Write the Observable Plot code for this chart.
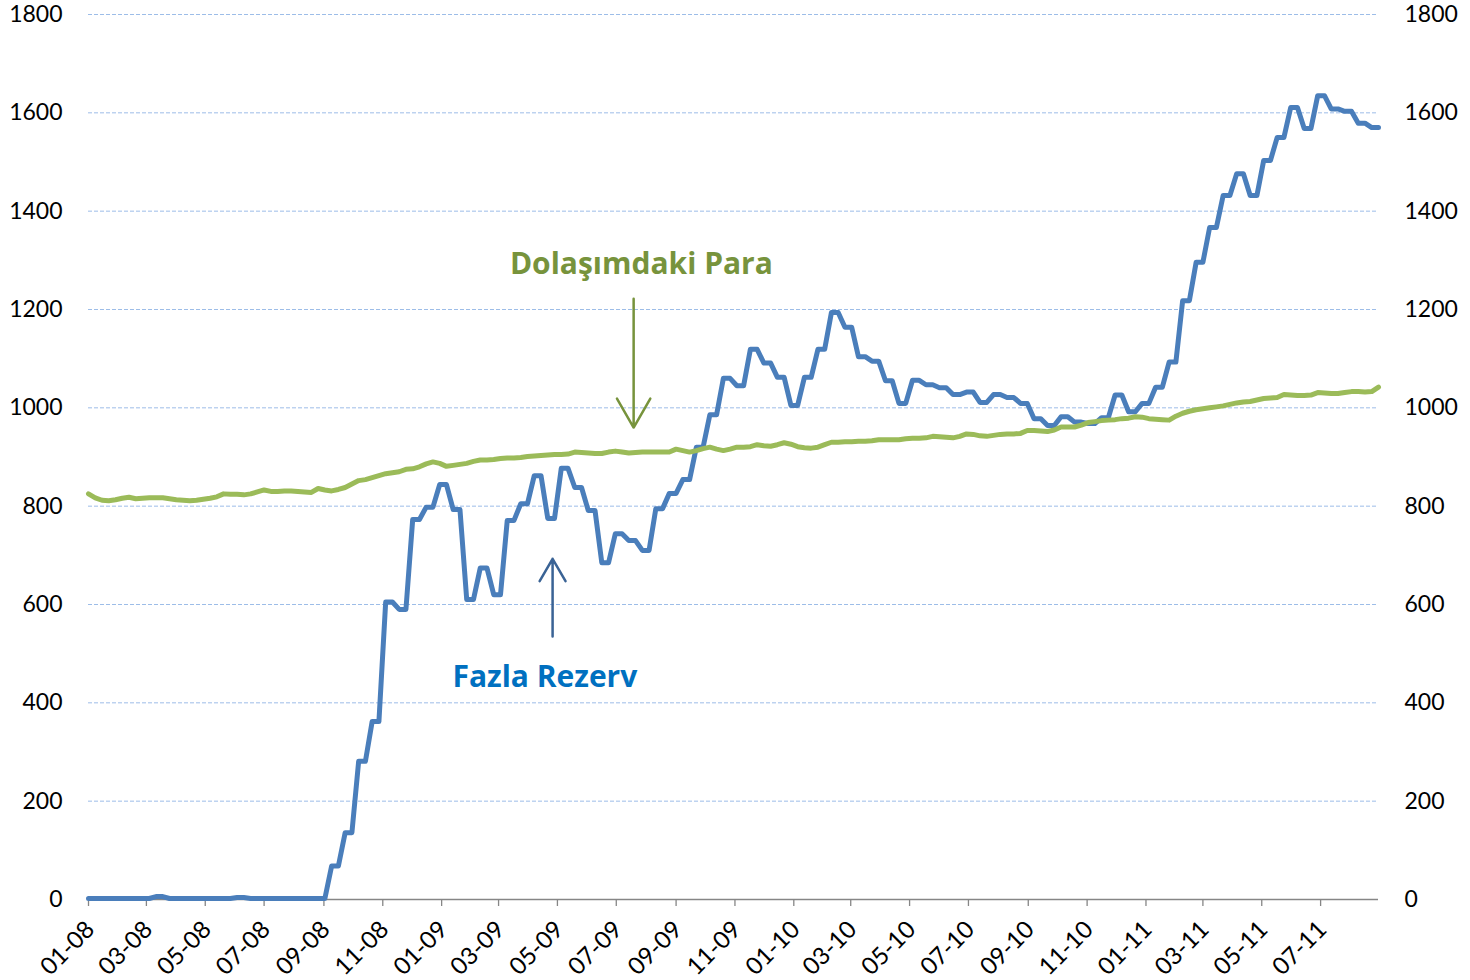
<!DOCTYPE html>
<html>
<head>
<meta charset="utf-8">
<script src="https://cdn.jsdelivr.net/npm/d3@7"></script>
<script src="https://cdn.jsdelivr.net/npm/@observablehq/plot@0.6"></script>
<style>
  html, body { margin: 0; padding: 0; background: #ffffff; }
  #chart { width: 1470px; height: 980px; }
</style>
</head>
<body>
<div id="chart"></div>
<script>
// ---- Data ----
const startDate = "2008-01-02";   // first weekly observation
const weekStep = 7;               // days between observations

const tickLabels = ["01-08","03-08","05-08","07-08","09-08","11-08",
  "01-09","03-09","05-09","07-09","09-09","11-09",
  "01-10","03-10","05-10","07-10","09-10","11-10",
  "01-11","03-11","05-11","07-11"];

const yTicks = [0, 200, 400, 600, 800, 1000, 1200, 1400, 1600, 1800];

// Fazla Rezerv (weekly, two-week maintenance-period values)
const fazlaRezerv = [
  2,2, 2,2, 2,2, 2,2, 2,2, 6,6, 2,2, 2,2, 2,2,
  2,2, 2,2, 4,4, 2,2, 2,2, 2,2, 2,2, 2,2, 2,2,
  68,68,136,136,281,281,362,362,605,605,
  590,590,773,773,798,798,844,844,793,793,
  610,610,674,674,620,620,771,771,805,805,
  862,862,775,775,877,877,838,838,791,791,
  685,685,744,744,730,730,710,710,795,795,
  826,826,854,854,920,920,986,986,1060,1060,
  1045,1045,1119,1119,1091,1091,1062,1062,1005,1005,
  1062,1062,1119,1119,1194,1194,1164,1164,1104,1104,
  1095,1095,1055,1055,1009,1009,1056,1056,1047,1047,
  1041,1041,1027,1027,1032,1032,1011,1011,1027,1027,
  1021,1021,1009,1009,978,978,964,964,982,982,
  971,971,968,968,980,980,1026,1026,992,992,
  1009,1009,1042,1042,1093,1093,1218,1218,1296,1296,
  1367,1367,1432,1432,1476,1476,1432,1432,1503,1503,
  1550,1550,1611,1611,1568,1568,1635,1635,1608,1608,
  1603,1603,1579,1579,1570,1570
];

// Dolaşımdaki Para (weekly)
const dolasimdakiPara = [
  825,817,812,811,813,816,818,815,816,817,
  817,817,815,813,812,811,812,814,816,819,
  825,824,824,823,825,829,833,830,830,831,
  831,830,829,828,836,833,831,834,838,845,
  852,854,858,862,866,868,870,875,876,880,
  886,890,887,881,883,885,887,891,894,894,
  895,897,898,898,899,901,902,903,904,905,
  905,906,910,909,908,907,907,910,912,910,
  908,909,910,910,910,910,910,916,913,910,
  913,917,920,916,913,916,920,920,921,925,
  923,922,925,929,926,921,919,918,920,925,
  930,930,931,931,932,932,933,935,935,935,
  935,937,938,938,939,942,941,940,939,942,
  947,946,943,942,944,946,947,947,948,954,
  954,953,952,955,961,961,961,965,970,972,
  974,975,976,978,979,982,981,978,977,976,
  975,983,989,993,996,998,1000,1002,1004,1007,
  1010,1012,1013,1016,1019,1020,1021,1027,1026,1025,
  1025,1026,1031,1030,1029,1029,1031,1033,1033,1032,
  1033,1042
];

// ---- Build tables ----
const start = new Date(startDate + "T00:00:00Z");
const dates = fazlaRezerv.map((_, i) => d3.utcDay.offset(start, i * weekStep));
const blueData = fazlaRezerv.map((v, i) => ({date: dates[i], value: v}));
const greenData = dolasimdakiPara.map((v, i) => ({date: dates[i], value: v}));
const parseTick = s => new Date(Date.UTC(2000 + +s.slice(3), +s.slice(0, 2) - 1, 2));
const tickDates = tickLabels.map(parseTick);

const dayAfter = n => d3.utcDay.offset(start, n);

const FONT = "Lato, 'Open Sans', sans-serif";
const BOLD_FONT = "'Open Sans', Lato, sans-serif";

const chart = Plot.plot({
  width: 1470,
  height: 980,
  marginTop: 14,
  marginBottom: 81,
  marginLeft: 88,
  marginRight: 92,
  style: {fontFamily: FONT, background: "#ffffff", color: "#000000", overflow: "visible"},
  x: {type: "utc", domain: [dates[0], dates[dates.length - 1]], axis: null},
  y: {domain: [0, 1800], axis: null},
  marks: [
    Plot.gridY(yTicks.filter(d => d > 0), {stroke: "#9dbde8", strokeOpacity: 1, strokeWidth: 1, strokeDasharray: "4,2"}),
    Plot.ruleY([0], {stroke: "#868686", strokeWidth: 1.3}),
    Plot.axisX(tickDates, {tickSize: 7, tickFormat: () => "", stroke: "#868686", strokeWidth: 1.3, label: null}),
    Plot.text(tickLabels, {
      x: parseTick, frameAnchor: "bottom", text: d => d,
      rotate: -45, textAnchor: "end", lineAnchor: "middle",
      dx: 2, dy: 26, fontSize: 24, fill: "#000000", fontFamily: FONT
    }),
    Plot.axisY(yTicks, {anchor: "left", tickSize: 0, tickPadding: 26, fontSize: 23, tickFormat: d => String(d), label: null, fill: "#000000"}),
    Plot.axisY(yTicks, {anchor: "right", tickSize: 0, tickPadding: 26, fontSize: 23, tickFormat: d => String(d), label: null, fill: "#000000"}),
    Plot.line(blueData, {x: "date", y: "value", stroke: "#4a7ebb", strokeWidth: 5, strokeLinejoin: "round", strokeLinecap: "round"}),
    Plot.line(greenData, {x: "date", y: "value", stroke: "#9bbb59", strokeWidth: 5, strokeLinejoin: "round", strokeLinecap: "round"}),
    Plot.arrow([0], {x1: () => dayAfter(565), x2: () => dayAfter(565), y1: 1222, y2: 960,
      stroke: "#77933c", strokeWidth: 2.5, headLength: 20, headAngle: 60}),
    Plot.arrow([0], {x1: () => dayAfter(481), x2: () => dayAfter(481), y1: 535, y2: 693,
      stroke: "#3a6395", strokeWidth: 2.5, headLength: 20, headAngle: 60}),
    Plot.text(["Dolaşımdaki Para"], {x: () => dayAfter(573), y: 1292, text: d => d,
      fontSize: 30, fontWeight: "bold", fill: "#77933c", fontFamily: BOLD_FONT}),
    Plot.text(["Fazla Rezerv"], {x: () => dayAfter(473), y: 451, text: d => d,
      fontSize: 30, fontWeight: "bold", fill: "#0070c0", fontFamily: BOLD_FONT})
  ]
});

document.getElementById("chart").appendChild(chart);
</script>
</body>
</html>
